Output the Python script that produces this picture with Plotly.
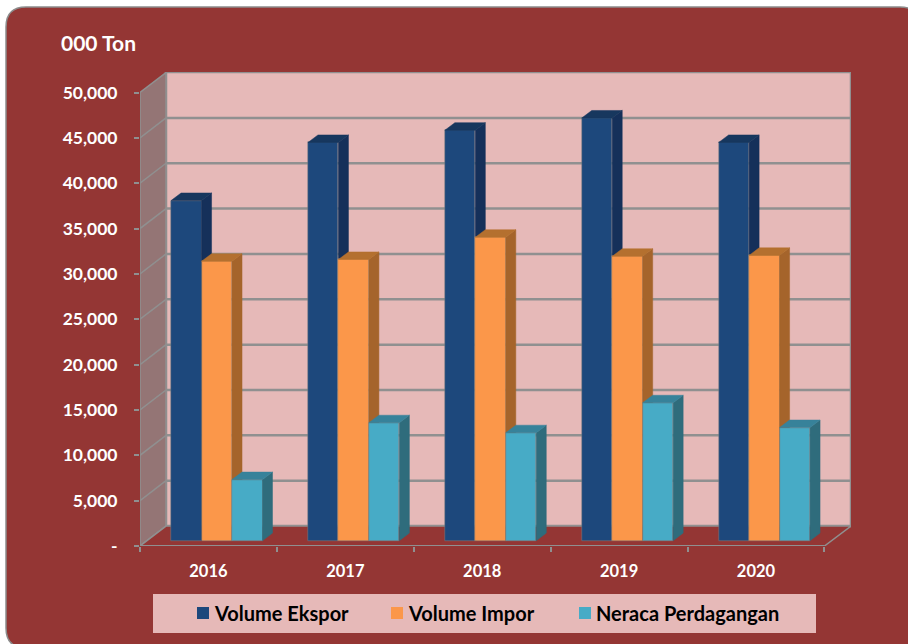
import plotly.graph_objects as go

W, H = 908, 644
ML, MR, MT, MB = 140, 57, 72, 98

years = ["2016", "2017", "2018", "2019", "2020"]
ekspor = [37500, 43900, 45250, 46600, 43900]
impor = [30800, 31000, 33450, 31350, 31450]
neraca = [6730, 13000, 11900, 15200, 12470]
y_ticks = [0, 5000, 10000, 15000, 20000, 25000, 30000, 35000, 40000, 45000, 50000]
y_labels = ["-", "5,000", "10,000", "15,000", "20,000", "25,000", "30,000", "35,000", "40,000", "45,000", "50,000"]

PANEL = "#943634"
PINK = "#E6B9B8"
SIDEWALL = "#947575"
GRID = "#909090"
WHITE = "#FFFFFF"
FONT = "Lato"

X_MAX = 5.194
Y_MAX = 52260
WALL_DX, WALL_DV = 0.19, 2200
BAR_DX, BAR_DV = 0.073, 830
BAR_W, BAR_BASE, BAR_SHIFT = 0.2226, 590, 0.061


def px(x):
    return (x - ML) / (W - ML - MR)


def py(y):
    return 1 - (y - MT) / (H - MT - MB)


fig = go.Figure()
series = [
    ("Volume Ekspor", ekspor, "#1D487C", "#15305A", "#17375E", "", 197),
    ("Volume Impor", impor, "#FB974A", "#A5642B", "#B4702F", "2", 391),
    ("Neraca Perdagangan", neraca, "#47ABC6", "#2F6C7C", "#37829A", "3", 579),
]
for k, (name, vals, front, side, top, ax, _) in enumerate(series):
    xs = [i + 0.5 + BAR_SHIFT + (k - 1) * BAR_W for i in range(len(years))]
    fig.add_trace(go.Bar(x=xs, y=vals, base=BAR_BASE, width=BAR_W, name=name, showlegend=False,
                         marker=dict(color=front, line=dict(color="#7F7F7F", width=0.5)),
                         xaxis="x" + ax, yaxis="y" + ax))
    for xc, v in zip(xs, vals):
        x1 = xc + BAR_W / 2
        x0 = xc - BAR_W / 2
        t = v + BAR_BASE
        fig.add_trace(go.Scatter(
            x=[x1, x1, x1 + BAR_DX, x1 + BAR_DX, x1],
            y=[BAR_BASE, t, t + BAR_DV, BAR_BASE + BAR_DV, BAR_BASE],
            fill="toself", fillcolor=side, mode="lines", line=dict(color=side, width=0.5),
            showlegend=False, hoverinfo="skip", xaxis="x" + ax, yaxis="y" + ax))
        fig.add_trace(go.Scatter(
            x=[x0, x1, x1 + BAR_DX, x0 + BAR_DX, x0],
            y=[t, t, t + BAR_DV, t + BAR_DV, t],
            fill="toself", fillcolor=top, mode="lines", line=dict(color=top, width=0.5),
            showlegend=False, hoverinfo="skip", xaxis="x" + ax, yaxis="y" + ax))

n = len(years)
shapes = []
# panel, rounded, running off the right and bottom of the page
L, T, R, B, r = 6, 7, 920, 648, 20
shapes.append(dict(type="path", xref="paper", yref="paper", layer="below",
                   path=(f"M{px(L+r)},{py(T)} L{px(R-r)},{py(T)} Q{px(R)},{py(T)} {px(R)},{py(T+r)} "
                         f"L{px(R)},{py(B-r)} Q{px(R)},{py(B)} {px(R-r)},{py(B)} "
                         f"L{px(L+r)},{py(B)} Q{px(L)},{py(B)} {px(L)},{py(B-r)} "
                         f"L{px(L)},{py(T+r)} Q{px(L)},{py(T)} {px(L+r)},{py(T)} Z"),
                   fillcolor=PANEL, line=dict(color="#8C8C8C", width=1.5)))
# legend band
shapes.append(dict(type="rect", xref="paper", yref="paper", layer="below",
                   x0=px(153), x1=px(816), y0=py(594), y1=py(633),
                   fillcolor=PINK, line=dict(width=0)))
# back wall
shapes.append(dict(type="rect", xref="x", yref="y", layer="below",
                   x0=WALL_DX, x1=X_MAX, y0=WALL_DV, y1=Y_MAX,
                   fillcolor=PINK, line=dict(color=GRID, width=2.5)))
# side wall
top_v = y_ticks[-1]
shapes.append(dict(type="path", xref="x", yref="y", layer="below",
                   path=f"M0,0 L0,{top_v} L{WALL_DX},{top_v+WALL_DV} L{WALL_DX},{WALL_DV} Z",
                   fillcolor=SIDEWALL, line=dict(color=GRID, width=1.5)))
# floor
shapes.append(dict(type="path", xref="x", yref="y", layer="below",
                   path=f"M0,0 L{WALL_DX},{WALL_DV} L{X_MAX},{WALL_DV} L{n},0 Z",
                   fillcolor=PANEL, line=dict(color=GRID, width=1.5)))
for v in y_ticks[1:-1]:
    shapes.append(dict(type="line", xref="x", yref="y", layer="below",
                       x0=WALL_DX, x1=X_MAX, y0=v + WALL_DV, y1=v + WALL_DV,
                       line=dict(color=GRID, width=2.5)))
    shapes.append(dict(type="line", xref="x", yref="y", layer="below",
                       x0=0, x1=WALL_DX, y0=v, y1=v + WALL_DV,
                       line=dict(color=GRID, width=1.5)))
shapes.append(dict(type="line", xref="x", yref="y", layer="below",
                   x0=0, x1=n, y0=0, y1=0, line=dict(color=GRID, width=2)))

annotations = [dict(text="000 Ton", xref="paper", yref="paper", x=px(60), y=py(43),
                    xanchor="left", yanchor="middle", showarrow=False, borderpad=0,
                    font=dict(family=FONT, size=21, color=WHITE, weight="bold"))]
# legend: swatch and name for each series
for name, _, front, _, _, _, left in series:
    shapes.append(dict(type="rect", xref="paper", yref="paper", layer="above",
                       x0=px(left), x1=px(left + 12), y0=py(607), y1=py(619),
                       fillcolor=front, line=dict(width=0)))
    annotations.append(dict(text=name, xref="paper", yref="paper", x=px(left + 15.5), y=py(613),
                            xanchor="left", yanchor="middle", showarrow=False, borderpad=0,
                            font=dict(family=FONT, size=20, color="#000000", weight="bold")))

axis_hidden = dict(visible=False, fixedrange=True)
fig.update_layout(
    width=W, height=H,
    margin=dict(l=ML, r=MR, t=MT, b=MB, pad=0, autoexpand=False),
    paper_bgcolor="white", plot_bgcolor="rgba(0,0,0,0)",
    barmode="overlay", bargap=0, shapes=shapes, annotations=annotations, showlegend=False,
    font=dict(family=FONT, color=WHITE, size=16, weight="bold"),
    xaxis=dict(range=[0, X_MAX], tickmode="array", tickvals=[i + 0.5 for i in range(n)],
               ticktext=years, ticks="", showgrid=False, zeroline=False, showline=False,
               ticklabelstandoff=13, fixedrange=True,
               tickfont=dict(family=FONT, size=16.5, color=WHITE, weight="bold"),
               minor=dict(tickmode="array", tickvals=list(range(n + 1)), ticks="outside",
                          ticklen=5, tickwidth=1.5, tickcolor=GRID, showgrid=False)),
    yaxis=dict(range=[0, Y_MAX], tickmode="array", tickvals=y_ticks, ticktext=y_labels,
               ticks="outside", ticklen=5, tickwidth=1.5, tickcolor=GRID, showgrid=False,
               zeroline=False, showline=False, ticklabelstandoff=13, fixedrange=True,
               tickfont=dict(family=FONT, size=17.5, color=WHITE, weight="bold")),
    xaxis2=dict(overlaying="x", range=[0, X_MAX], **axis_hidden),
    yaxis2=dict(overlaying="y", range=[0, Y_MAX], **axis_hidden),
    xaxis3=dict(overlaying="x", range=[0, X_MAX], **axis_hidden),
    yaxis3=dict(overlaying="y", range=[0, Y_MAX], **axis_hidden),
)
fig.write_html("out.html", config=dict(displayModeBar=False),
               post_script="document.body.style.margin='0';document.body.style.overflow='hidden';")
